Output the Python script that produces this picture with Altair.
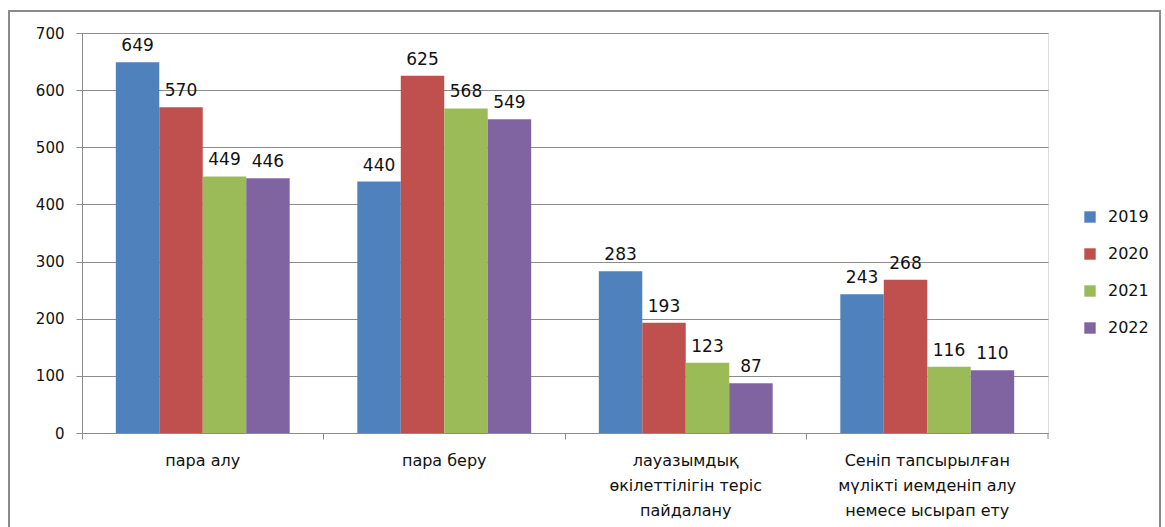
import altair as alt
import pandas as pd

categories = [
    "пара алу",
    "пара беру",
    "лауазымдық|өкілеттілігін  теріс|пайдалану",
    "Сеніп тапсырылған|мүлікті иемденіп алу|немесе  ысырап ету",
]
years = ["2019", "2020", "2021", "2022"]
values_2019 = [649, 440, 283, 243]
values_2020 = [570, 625, 193, 268]
values_2021 = [449, 568, 123, 116]
values_2022 = [446, 549, 87, 110]
colors = ["#4F81BD", "#C0504D", "#9BBB59", "#8064A2"]
y_ticks = [0, 100, 200, 300, 400, 500, 600, 700]

series = [values_2019, values_2020, values_2021, values_2022]
rows = []
for yr, vals in zip(years, series):
    for cat, v in zip(categories, vals):
        rows.append({"category": cat, "year": yr, "value": v})
df = pd.DataFrame(rows)

W, H = 966, 400
FONT = "DejaVu Sans"

x_enc = alt.X(
    "category:N",
    sort=categories,
    title=None,
    scale=alt.Scale(paddingInner=0.28, paddingOuter=0.14),
    axis=alt.Axis(
        labelExpr="split(datum.label, '|')",
        labelAngle=0,
        labelPadding=13,
        labelLineHeight=25,
        labelFontSize=16,
        labelFont=FONT,
        labelColor="#111111",
        labelBaseline="top",
        bandPosition=-0.194,
        tickSize=6,
        tickColor="#8c8c8c",
        domainColor="#8c8c8c",
        grid=False,
    ),
)
xoff = alt.XOffset("year:N", sort=years, scale=alt.Scale(paddingInner=0, paddingOuter=0))

base = alt.Chart(df)

bars = base.mark_bar().encode(
    x=x_enc,
    xOffset=xoff,
    y=alt.Y(
        "value:Q",
        title=None,
        scale=alt.Scale(domain=[0, 700], nice=False),
        axis=alt.Axis(
            values=y_ticks,
            labelFontSize=15,
            labelFont=FONT,
            labelColor="#111111",
            labelPadding=12,
            tickSize=6,
            tickColor="#8c8c8c",
            domainColor="#8c8c8c",
            gridColor="#8c8c8c",
            gridWidth=1,
        ),
    ),
    color=alt.Color(
        "year:N",
        sort=years,
        scale=alt.Scale(domain=years, range=colors),
        legend=alt.Legend(
            title=None,
            orient="none",
            legendX=1000,
            legendY=176,
            symbolType="square",
            symbolSize=130,
            symbolStrokeWidth=0,
            labelFontSize=16,
            labelFont=FONT,
            labelColor="#111111",
            rowPadding=21,
            labelOffset=10,
        ),
    ),
)

labels = base.mark_text(
    baseline="bottom", dy=-7, fontSize=17, font=FONT, color="#111111"
).encode(
    x=alt.X("category:N", sort=categories),
    xOffset=xoff,
    y=alt.Y("value:Q"),
    text=alt.Text("value:Q"),
)

end_tick = alt.Chart(alt.Data(values=[{}])).mark_rule(color="#8c8c8c").encode(
    x=alt.value(W), y=alt.value(H), y2=alt.value(H + 6)
)

frame = alt.Chart(alt.Data(values=[{}])).mark_rect(
    fill=None, stroke="#8a8a8a", strokeWidth=2
).encode(
    x=alt.value(-73), x2=alt.value(1078), y=alt.value(-22), y2=alt.value(520)
)

chart = (
    alt.layer(bars, labels, end_tick, frame)
    .properties(
        width=W,
        height=H,
        autosize=alt.AutoSizeParams(type="none"),
        padding={"left": 82, "top": 33, "right": 117, "bottom": 94},
    )
    .configure_view(stroke=None)
    .configure(background="white")
)

chart.save("out.html", embed_options={"renderer": "svg", "actions": False})
